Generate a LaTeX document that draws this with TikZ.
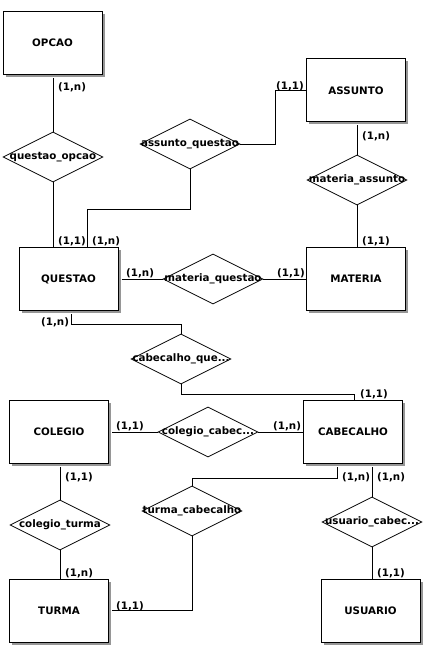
\documentclass[tikz,border=0pt]{standalone}
\usepackage{fontspec}
\setmainfont{DejaVu Sans}
\usetikzlibrary{shapes.geometric}
\definecolor{shadowgray}{RGB}{150,150,150}
\tikzset{
  every node/.style={font=\bfseries\fontsize{10.3}{12}\selectfont},
  entity/.style={draw, fill=white, line width=1pt, minimum width=99pt, minimum height=63pt, inner sep=0pt},
  shade box/.style={fill=shadowgray, draw=none, minimum width=99pt, minimum height=63pt, inner sep=0pt},
  rel/.style={diamond, draw, line width=0.8pt, minimum width=100pt, minimum height=50pt, inner sep=0pt},
  card/.style={anchor=west, inner sep=0pt},
  link/.style={line width=0.8pt},
}
% entity box with a grey drop shadow
\newcommand{\entitybox}[3]{%
  \node[shade box] at ([xshift=2.5pt,yshift=-2.5pt]#2) {};
  \node[entity] (#1) at (#2) {#3};
}
\begin{document}
\begin{tikzpicture}[x=1pt, y=-1pt]
\useasboundingbox[fill=white] (0,0) rectangle (427,650);

% relationships
\node[rel, label=center:{questao\_opcao}] (qo) at (53,157) {};
\node[rel, label=center:{assunto\_questao}] (aq) at (190,144) {};
\node[rel, label=center:{materia\_assunto}] (ma) at (357,180) {};
\node[rel, label=center:{materia\_questao}] (mq) at (213,279) {};
\node[rel, label=center:{cabecalho\_que...}] (cq) at (181,359) {};
\node[rel, label=center:{colegio\_cabec...}] (cc) at (208,432) {};
\node[rel, label=center:{turma\_cabecalho}] (tc) at (192,511) {};
\node[rel, label=center:{colegio\_turma}] (ct) at (60,525) {};
\node[rel, label=center:{usuario\_cabec...}] (uc) at (372,522) {};

% entity positions
\path
  coordinate (pOpcao) at (52.5,43)
  coordinate (pAssunto) at (356,90.5)
  coordinate (pQuestao) at (68.5,279)
  coordinate (pMateria) at (356,279)
  coordinate (pColegio) at (59,432)
  coordinate (pCabecalho) at (353,432)
  coordinate (pTurma) at (59,610.5)
  coordinate (pUsuario) at (370.5,610.5);

\entitybox{opcao}{pOpcao}{OPCAO}
\entitybox{assunto}{pAssunto}{ASSUNTO}
\entitybox{questao}{pQuestao}{QUESTAO}
\entitybox{materia}{pMateria}{MATERIA}
\entitybox{colegio}{pColegio}{COLEGIO}
\entitybox{cabecalho}{pCabecalho}{CABECALHO}
\entitybox{turma}{pTurma}{TURMA}
\entitybox{usuario}{pUsuario}{USUARIO}

% connectors
\begin{scope}[link]
  \draw (qo.north) -- ([yshift=-3pt]qo.north |- opcao.south);
  \draw (qo.south) -- (qo.south |- questao.north);
  \draw (aq.south) -- ++(0,40) -| ([xshift=18.5pt]questao.north);
  \draw (aq.east) -- ++(35,0) |- (assunto.west);
  \draw (ma.north) -- ([yshift=-3pt]ma.north |- assunto.south);
  \draw (ma.south) -- (ma.south |- materia.north);
  \draw ([xshift=3pt]questao.east) -- (mq.west);
  \draw (mq.east) -- (materia.west);
  \draw ([xshift=2.5pt,yshift=-3pt]questao.south) -- ++(0,10) -| (cq.north);
  \draw (cq.south) -- ++(0,10) -| ([xshift=1pt]cabecalho.north);
  \draw ([xshift=3pt]colegio.east) -- (cc.west);
  \draw (cc.east) -- (cabecalho.west);
  \draw ([xshift=-16pt,yshift=-3pt]cabecalho.south) -- ++(0,11) -| (tc.north);
  \draw (uc.north) -- ([yshift=-3pt]uc.north |- cabecalho.south);
  \draw (uc.south) -- (uc.south |- usuario.north);
  \draw (ct.north) -- ([yshift=-3pt]ct.north |- colegio.south);
  \draw (ct.south) -- (ct.south |- turma.north);
  \draw (tc.south) |- ([xshift=3pt]turma.east);
\end{scope}

% cardinalities
\node[card] (c1) at (58,87) {(1,n)};
\node[card] (c2) at (58,241) {(1,1)};
\node[card] (c3) at (92,241) {(1,n)};
\node[card] (c4) at (276,86) {(1,1)};
\node[card] (c5) at (362,136) {(1,n)};
\node[card] (c6) at (362,241) {(1,1)};
\node[card] (c7) at (126,273) {(1,n)};
\node[card] (c8) at (277,273) {(1,1)};
\node[card] (c9) at (41,322) {(1,n)};
\node[card] (c10) at (360,394) {(1,1)};
\node[card] (c11) at (116,426) {(1,1)};
\node[card] (c12) at (273,426) {(1,n)};
\node[card] (c13) at (342,477) {(1,n)};
\node[card] (c14) at (377,477) {(1,n)};
\node[card] (c15) at (65,477) {(1,1)};
\node[card] (c16) at (65,573) {(1,n)};
\node[card] (c17) at (377,573) {(1,1)};
\node[card] (c18) at (116,606) {(1,1)};
\end{tikzpicture}
\end{document}
